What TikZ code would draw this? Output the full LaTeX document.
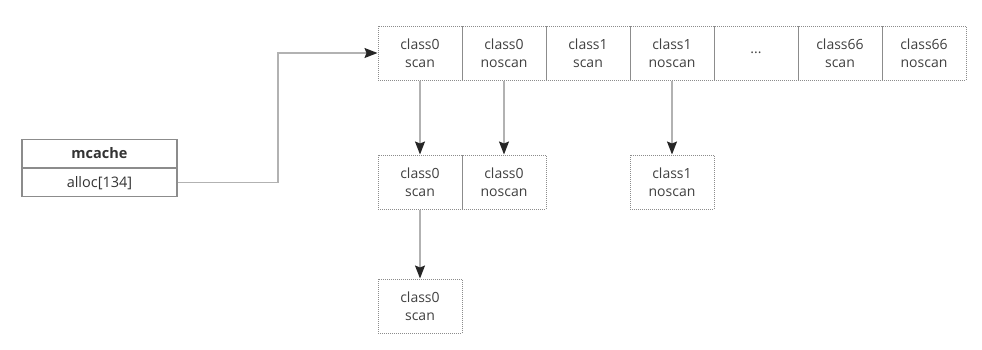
\documentclass[tikz,border=0pt]{standalone}
\usepackage{fontspec}
\setmainfont{Open Sans}
\usetikzlibrary{arrows.meta, positioning, calc}

\begin{document}
\begin{tikzpicture}[
        x=1pt, y=-1pt,
        cell/.style={rectangle, draw=black!45, densely dotted, line width=1pt, minimum width=84pt, minimum height=54pt, inner sep=0pt, align=center, font=\fontsize{14}{17.5}\selectfont, text=black!75},
        field/.style={rectangle, draw=black!45, line width=1.2pt, minimum width=155pt, minimum height=28pt, inner sep=0pt, text=black!80, font=\fontsize{14.5}{16}\selectfont},
        link/.style={draw=black!30, line width=1.5pt, -{Stealth[length=13pt, width=10pt, inset=2pt, color=black!85]}}
    ]
        \useasboundingbox (0,0) rectangle (982,349);
        % spans of the mcache
        \node[cell] (t0) at (420, 53) {class0\\scan};
        \node[cell] (t1) at (504, 53) {class0\\noscan};
        \node[cell] (t2) at (588, 53) {class1\\scan};
        \node[cell] (t3) at (672, 53) {class1\\noscan};
        \node[cell] (t4) at (756, 53) {...};
        \node[cell] (t5) at (840, 53) {class66\\scan};
        \node[cell] (t6) at (924, 53) {class66\\noscan};
        \node[cell] (m0s) at (420, 182) {class0\\scan};
        \node[cell] (m0n) at (504, 182) {class0\\noscan};
        \node[cell] (m1n) at (672, 182) {class1\\noscan};
        \node[cell] (b0s) at (420, 306) {class0\\scan};
        % mcache struct
        \node[field, font=\fontsize{14.5}{16}\selectfont\bfseries] (mcache) at (99.5, 153.5) {mcache};
        \node[field, below=0pt of mcache] (alloc) {alloc[134]};
        \draw[black!45, line width=2.4pt] (mcache.south west) -- (mcache.south east);
        \draw[link] (alloc.east) -| (278, 53) -- (t0.west);
        \draw[link] (t0) -- (m0s);
        \draw[link] (t1) -- (m0n);
        \draw[link] (t3) -- (m1n);
        \draw[link] (m0s) -- (b0s);
    \end{tikzpicture}
\end{document}
